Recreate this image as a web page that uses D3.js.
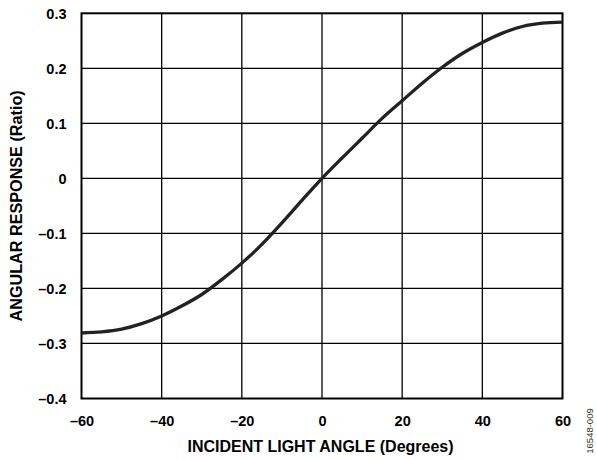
<!DOCTYPE html>
<html>
<head>
<meta charset="utf-8">
<script src="https://cdn.jsdelivr.net/npm/d3@7"></script>
<style>
  html, body { margin: 0; padding: 0; background: #fff; }
  svg { display: block; }
  text { font-family: "Liberation Sans", Arial, Helvetica, sans-serif; }
</style>
</head>
<body>
<script>
// Data
const angles = [-60, -55, -50, -45, -40, -35, -30, -25, -20, -15, -10, -5, 0, 5, 10, 15, 20, 25, 30, 35, 40, 45, 50, 55, 60];
const response = [-0.281, -0.279, -0.274, -0.264, -0.250, -0.232, -0.211, -0.184, -0.154, -0.120, -0.081, -0.040, 0.000,
                  0.037, 0.073, 0.109, 0.141, 0.173, 0.202, 0.227, 0.247, 0.264, 0.276, 0.282, 0.284];
const xTicks = [-60, -40, -20, 0, 20, 40, 60];
const yTicks = [0.3, 0.2, 0.1, 0, -0.1, -0.2, -0.3, -0.4];
const xTitle = "INCIDENT LIGHT ANGLE (Degrees)";
const yTitle = "ANGULAR RESPONSE (Ratio)";
const figId = "16548-009";

const W = 597, H = 460;
const m = { left: 81.5, right: 562.5, top: 13.3, bottom: 398.5 };

const svg = d3.select("body").append("svg").attr("width", W).attr("height", H);

const x = d3.scaleLinear().domain([-60, 60]).range([m.left, m.right]);
const y = d3.scaleLinear().domain([-0.4, 0.3]).range([m.bottom, m.top]);

const fmt = v => {
  if (v === 0) return "0";
  const s = Math.abs(v) < 1 && !Number.isInteger(v) ? Math.abs(v).toFixed(1) : String(Math.abs(v));
  return (v < 0 ? "\u2013" : "") + s;
};

// grid
const grid = svg.append("g").attr("stroke", "#000").attr("stroke-width", 1.3);
grid.selectAll("line.v").data(xTicks.slice(1, -1)).join("line")
  .attr("x1", d => x(d)).attr("x2", d => x(d)).attr("y1", m.top).attr("y2", m.bottom);
grid.selectAll("line.h").data(yTicks.slice(1, -1)).join("line")
  .attr("x1", m.left).attr("x2", m.right).attr("y1", d => y(d)).attr("y2", d => y(d));

// frame
svg.append("rect").attr("x", m.left).attr("y", m.top)
  .attr("width", m.right - m.left).attr("height", m.bottom - m.top)
  .attr("fill", "none").attr("stroke", "#000").attr("stroke-width", 2);

// axes (labels only)
const xAxis = d3.axisBottom(x).tickValues(xTicks).tickFormat(fmt).tickSize(0).tickPadding(0);
const gx = svg.append("g").attr("transform", `translate(0,${m.bottom})`).call(xAxis);
gx.select(".domain").remove();
gx.selectAll("text").attr("y", 27.5).attr("dy", 0)
  .attr("font-size", 14.5).attr("font-weight", "bold").attr("fill", "#000")
  .attr("font-family", "'Liberation Sans', Arial, sans-serif");

const yAxis = d3.axisLeft(y).tickValues(yTicks).tickFormat(fmt).tickSize(0).tickPadding(0);
const gy = svg.append("g").attr("transform", `translate(${m.left},0)`).call(yAxis);
gy.select(".domain").remove();
gy.selectAll("text").attr("x", -15).attr("dy", "0.36em")
  .attr("font-size", 14.5).attr("font-weight", "bold").attr("fill", "#000")
  .attr("font-family", "'Liberation Sans', Arial, sans-serif");

// curve
const line = d3.line().x((d, i) => x(angles[i])).y(d => y(d)).curve(d3.curveCatmullRom.alpha(0.5));
svg.append("path").datum(response).attr("d", line)
  .attr("fill", "none").attr("stroke", "#222").attr("stroke-width", 3.3)
  .attr("stroke-linejoin", "round").attr("stroke-linecap", "butt");

// titles
svg.append("text").attr("x", (m.left + m.right) / 2 - 1.5).attr("y", 452)
  .attr("text-anchor", "middle").attr("font-size", 16).attr("font-weight", "bold")
  .text(xTitle);
svg.append("text").attr("transform", `translate(22,${(m.top + m.bottom) / 2}) rotate(-90)`)
  .attr("text-anchor", "middle").attr("font-size", 16.2).attr("font-weight", "bold")
  .text(yTitle);
svg.append("text").attr("transform", `translate(592.5,431) rotate(-90)`)
  .attr("text-anchor", "middle").attr("font-size", 9.5).attr("fill", "#333")
  .text(figId);
</script>
</body>
</html>
